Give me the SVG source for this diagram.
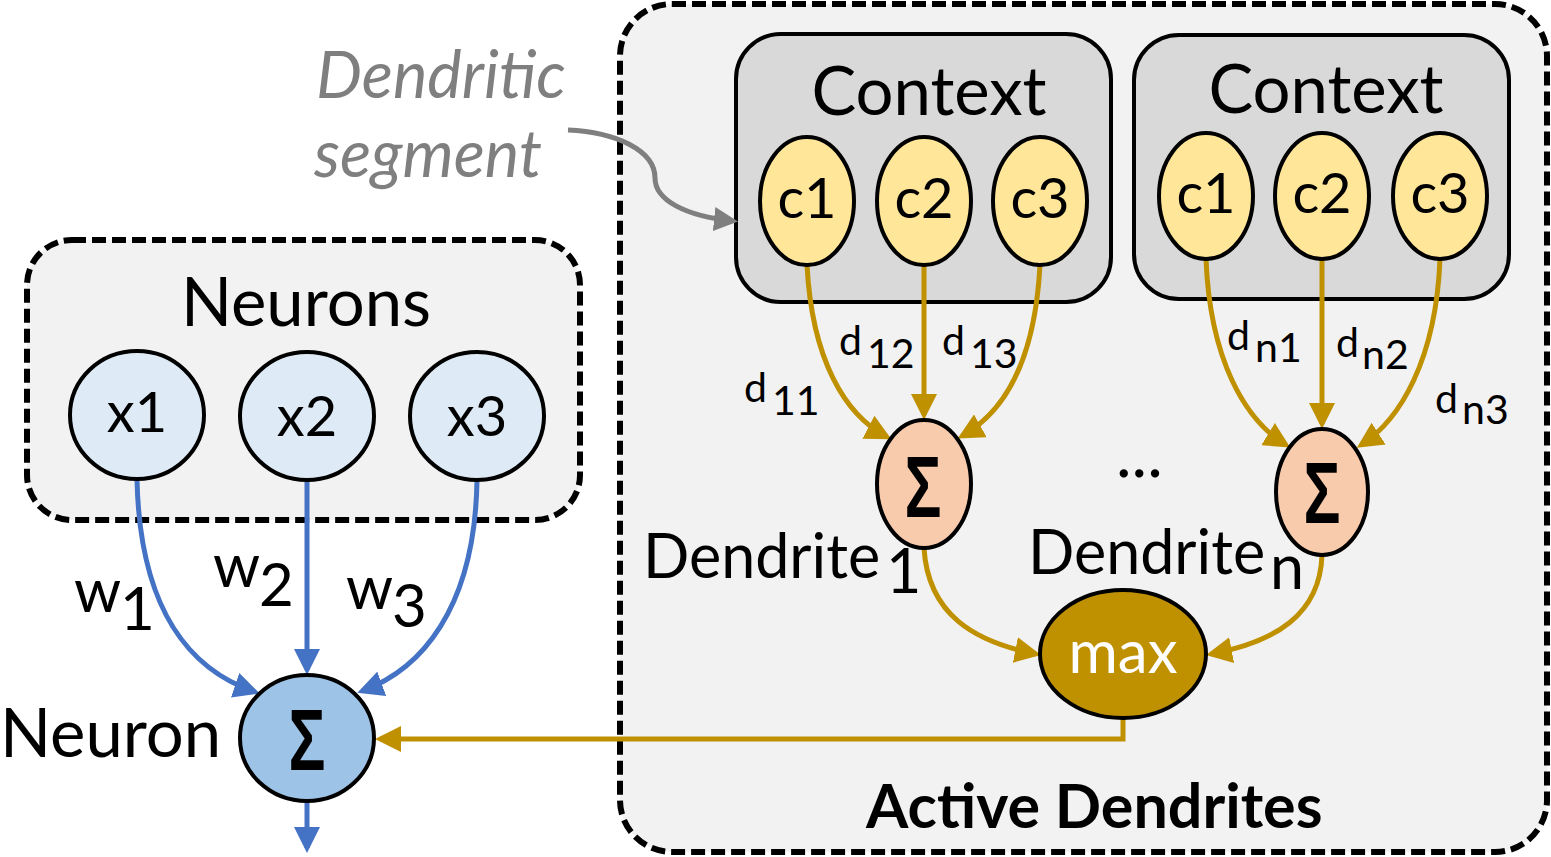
<svg xmlns="http://www.w3.org/2000/svg" width="1551" height="857" viewBox="0 0 1551 857">
<style>
text{font-family:Lato,"Liberation Sans",sans-serif;fill:#000}
.box{fill:#f2f2f2;stroke:#000;stroke-width:6;stroke-dasharray:14 6}
.ctx{fill:#d9d9d9;stroke:#000;stroke-width:4}
.cn{fill:#ffe699;stroke:#000;stroke-width:4}
.xn{fill:#deebf7;stroke:#000;stroke-width:4}
.sd{fill:#f8cbad;stroke:#000;stroke-width:4}
.sn{fill:#9dc3e6;stroke:#000;stroke-width:4}
.mx{fill:#bf9000;stroke:#000;stroke-width:4}
.g{fill:none;stroke:#bf9000;stroke-width:5;marker-end:url(#ag)}
.b{fill:none;stroke:#4472c4;stroke-width:5;marker-end:url(#ab)}
.gr{fill:none;stroke:#7f7f7f;stroke-width:5;marker-end:url(#agr)}
.sig{font-family:"Liberation Sans",sans-serif;font-weight:bold;font-size:88px;text-anchor:middle}
.lab{font-size:56px;text-anchor:middle}
.ttl{font-size:67px;text-anchor:middle}
.d{font-size:41px}
.w{font-size:60px}
.den{font-size:61px}
.it{font-size:65px;font-style:italic;fill:#7f7f7f}
</style>
<defs>
<marker id="ag" markerUnits="userSpaceOnUse" viewBox="0 0 26 26" markerWidth="26" markerHeight="26" refX="21" refY="13" orient="auto"><path d="M0,0 L26,13 L0,26 z" fill="#bf9000"/></marker>
<marker id="ab" markerUnits="userSpaceOnUse" viewBox="0 0 26 26" markerWidth="26" markerHeight="26" refX="21" refY="13" orient="auto"><path d="M0,0 L26,13 L0,26 z" fill="#4472c4"/></marker>
<marker id="agr" markerUnits="userSpaceOnUse" viewBox="0 0 24 24" markerWidth="24" markerHeight="24" refX="19" refY="12" orient="auto"><path d="M0,0 L24,12 L0,24 z" fill="#7f7f7f"/></marker>
</defs>

<g id="active-dendrites-box">
<rect class="box" x="620" y="4" width="927" height="848" rx="52" ry="52"/>
<text x="866" y="828" style="font-size:61px;font-weight:bold">Active Dendrites</text>
</g>

<g id="neurons-box">
<rect class="box" x="27" y="240" width="553" height="280" rx="45" ry="45"/>
<text class="ttl" x="306" y="326">Neurons</text>
</g>

<g id="context1">
<rect class="ctx" x="736" y="34" width="375" height="268" rx="45" ry="45"/>
<text class="ttl" x="929" y="115">Context</text>
</g>
<g id="context2">
<rect class="ctx" x="1134" y="35" width="375" height="264" rx="45" ry="45"/>
<text class="ttl" x="1326" y="113">Context</text>
</g>

<g id="connectors">
<path class="g" d="M807,265 C812,360 845,415 887,437"/>
<path class="g" d="M924,265 L924,415"/>
<path class="g" d="M1040,265 C1035,360 1005,412 962,436"/>
<path class="g" d="M1206,259 C1210,360 1245,420 1286,445"/>
<path class="g" d="M1322,259 L1322,424"/>
<path class="g" d="M1440,259 C1436,360 1400,420 1361,445"/>
<path class="g" d="M924,548 C928,615 975,642 1036,654"/>
<path class="g" d="M1322,555 C1320,615 1275,642 1211,654"/>
<path class="g" d="M1123,718 L1123,739 L380,739"/>
<path class="b" d="M137,480 C140,610 190,670 255,692"/>
<path class="b" d="M307,480 L307,670"/>
<path class="b" d="M477,480 C475,610 420,670 362,691"/>
<path class="b" d="M307,802 L307,848"/>
<path class="gr" d="M568,130 C615,132 655,150 655,178 C655,200 685,216 733,221"/>
</g>

<g id="c1a"><ellipse class="cn" cx="807" cy="201" rx="47" ry="64"/><text class="lab" x="807" y="218">c1</text></g>
<g id="c2a"><ellipse class="cn" cx="924" cy="201" rx="47" ry="64"/><text class="lab" x="924" y="218">c2</text></g>
<g id="c3a"><ellipse class="cn" cx="1040" cy="201" rx="47" ry="64"/><text class="lab" x="1040" y="218">c3</text></g>
<g id="c1b"><ellipse class="cn" cx="1206" cy="196" rx="47" ry="63"/><text class="lab" x="1206" y="213">c1</text></g>
<g id="c2b"><ellipse class="cn" cx="1322" cy="196" rx="47" ry="63"/><text class="lab" x="1322" y="213">c2</text></g>
<g id="c3b"><ellipse class="cn" cx="1440" cy="196" rx="47" ry="63"/><text class="lab" x="1440" y="213">c3</text></g>

<g id="x1"><ellipse class="xn" cx="137" cy="415" rx="67" ry="64"/><text class="lab" x="137" y="432">x1</text></g>
<g id="x2"><ellipse class="xn" cx="307" cy="416" rx="67" ry="64"/><text class="lab" x="307" y="436">x2</text></g>
<g id="x3"><ellipse class="xn" cx="477" cy="416" rx="67" ry="64"/><text class="lab" x="477" y="436">x3</text></g>

<g id="dendrite1">
<ellipse class="sd" cx="924" cy="484" rx="47" ry="64"/>
<text class="sig" transform="translate(923,517) scale(0.7,1)">Σ</text>
<text class="den" x="643" y="578">Dendrite<tspan x="886" y="593">1</tspan></text>
</g>
<g id="dendriten">
<ellipse class="sd" cx="1322" cy="492" rx="46" ry="63"/>
<text class="sig" transform="translate(1322,523) scale(0.7,1)">Σ</text>
<text class="den" x="1028" y="574">Dendrite<tspan x="1270" y="589">n</tspan></text>
</g>
<text x="1116" y="477" style="font-size:66px">...</text>

<g id="max">
<ellipse class="mx" cx="1123" cy="654" rx="83" ry="64"/>
<text x="1123" y="673" style="font-size:60px;text-anchor:middle;fill:#fff">max</text>
</g>

<g id="neuron">
<ellipse class="sn" cx="307" cy="738" rx="67" ry="63"/>
<text class="sig" transform="translate(307,770) scale(0.7,1)">Σ</text>
<text x="0" y="757" style="font-size:67px">Neuron</text>
</g>

<g id="labels">
<text class="d" x="744" y="402">d<tspan x="772" y="415">11</tspan></text>
<text class="d" x="839" y="355">d<tspan x="867" y="368">12</tspan></text>
<text class="d" x="942" y="355">d<tspan x="970" y="368">13</tspan></text>
<text class="d" x="1227" y="350">d<tspan x="1255" y="362">n1</tspan></text>
<text class="d" x="1336" y="357">d<tspan x="1362" y="369">n2</tspan></text>
<text class="d" x="1435" y="413">d<tspan x="1462" y="424">n3</tspan></text>
<text class="w" x="74" y="612">w<tspan x="120" y="630">1</tspan></text>
<text class="w" x="213" y="587">w<tspan x="259" y="606">2</tspan></text>
<text class="w" x="346" y="609">w<tspan x="392" y="627">3</tspan></text>
<text class="it" x="316" y="98">Dendritic</text>
<text class="it" x="314" y="177">segment</text>
</g>
</svg>
